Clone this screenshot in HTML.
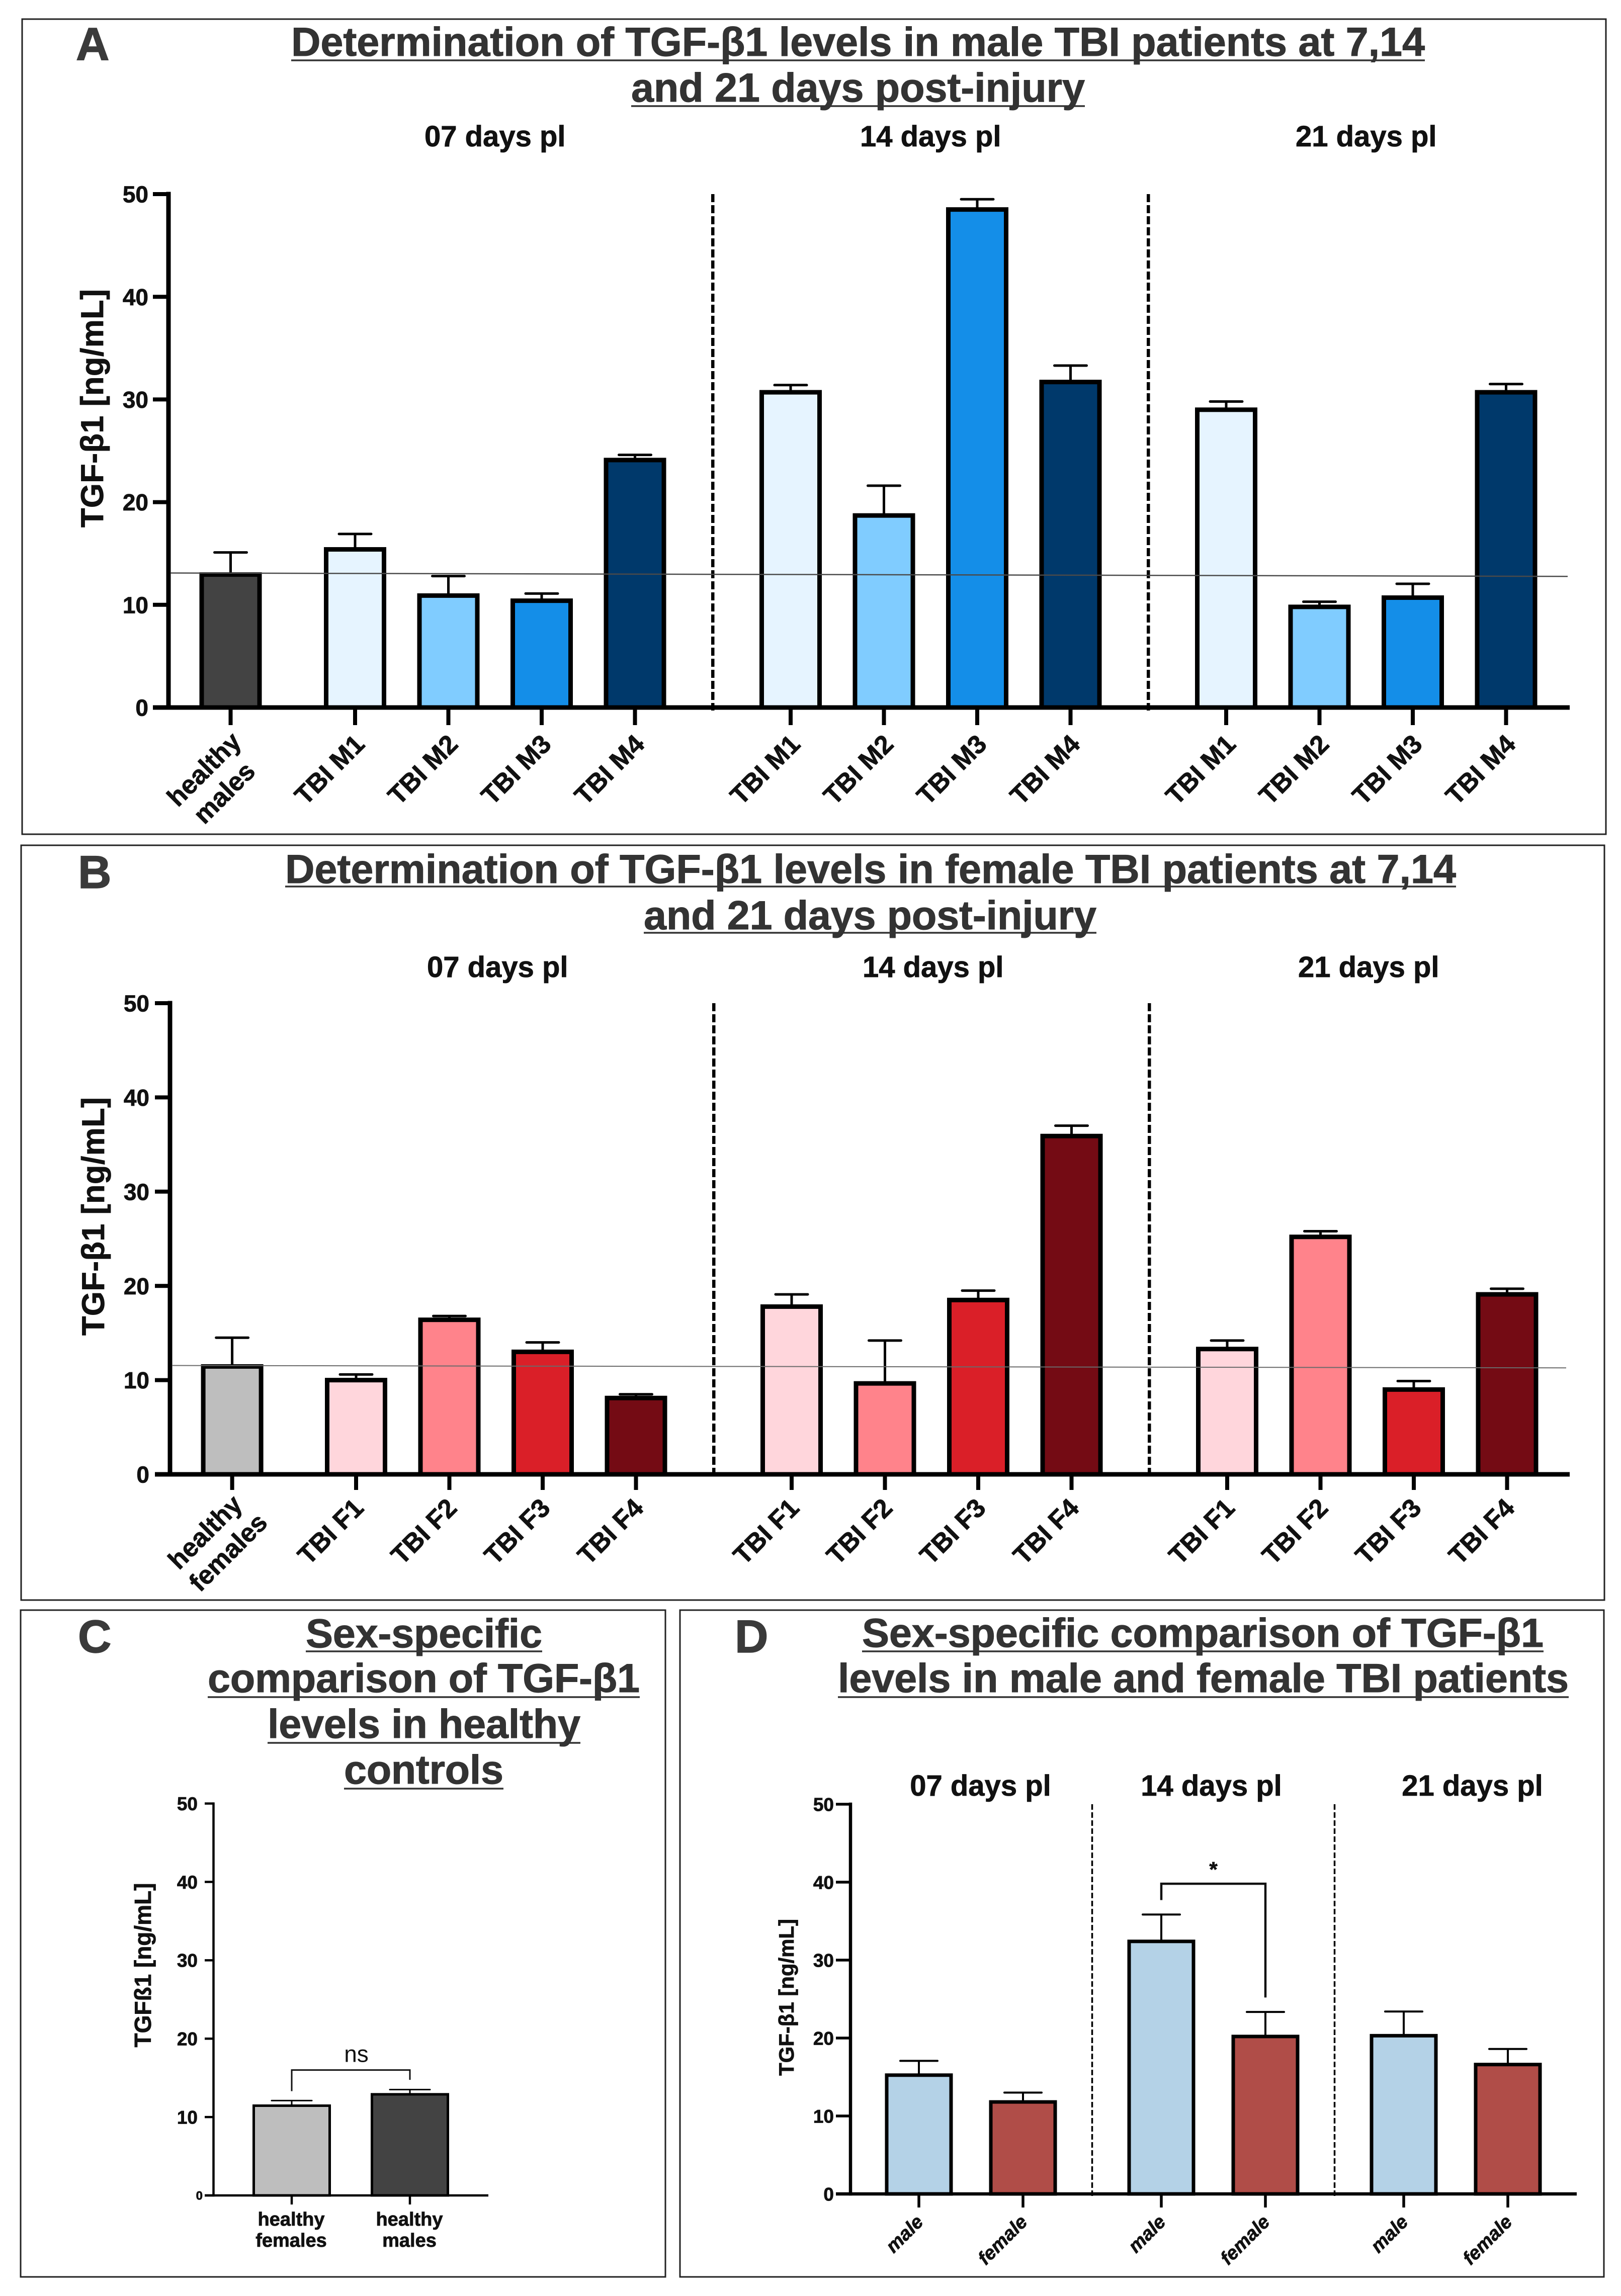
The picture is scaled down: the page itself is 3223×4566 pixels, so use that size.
<!DOCTYPE html>
<html lang="en">
<head>
<meta charset="utf-8">
<title>Determination of TGF-β1 levels in TBI patients</title>
<style>
  html, body { margin: 0; padding: 0; background: #fff; }
  svg { display: block; }
  text { font-family: "Liberation Sans", "DejaVu Sans", sans-serif; }
  .panel-title { font-size: 81px; font-weight: 700; fill: #333; stroke: #333; stroke-width: 1; }
  .panel-letter { font-size: 92px; font-weight: 700; fill: #3a3a3a; stroke: #3a3a3a; stroke-width: 1.5; }
  .title-rule { stroke: #333; stroke-width: 3.5; }
  .frame { fill: none; stroke: #222; stroke-width: 3; }
  .chart-label { stroke: #111; stroke-width: 0.8; }
</style>
</head>
<body>
<svg id="figure" xmlns="http://www.w3.org/2000/svg" width="3223" height="4566" viewBox="0 0 3223 4566">
  <rect x="0" y="0" width="3223" height="4566" fill="#fff"/>

  <g>
    <rect class="frame" x="44" y="38" width="3149" height="1621"/>
    <text class="panel-letter" x="151" y="119">A</text>
    <text class="panel-title" x="579" y="111" textLength="2254" lengthAdjust="spacing">Determination of TGF-β1 levels in male TBI patients at 7,14</text>
    <line class="title-rule" x1="579" x2="2833" y1="120" y2="120"/>
    <text class="panel-title" x="1255" y="202" textLength="902" lengthAdjust="spacing">and 21 days post-injury</text>
    <line class="title-rule" x1="1255" x2="2157" y1="211" y2="211"/>
  </g>

  <g>
    <rect class="frame" x="42" y="1681" width="3148" height="1501"/>
    <text class="panel-letter" x="155" y="1766">B</text>
    <text class="panel-title" x="567" y="1756" textLength="2328" lengthAdjust="spacing">Determination of TGF-β1 levels in female TBI patients at 7,14</text>
    <line class="title-rule" x1="567" x2="2895" y1="1763" y2="1763"/>
    <text class="panel-title" x="1280" y="1848" textLength="900" lengthAdjust="spacing">and 21 days post-injury</text>
    <line class="title-rule" x1="1280" x2="2180" y1="1855" y2="1855"/>
  </g>

  <g>
    <rect class="frame" x="41" y="3202" width="1282" height="1326"/>
    <text class="panel-letter" x="155" y="3286">C</text>
    <text class="panel-title" x="608" y="3276" textLength="470" lengthAdjust="spacing">Sex-specific</text>
    <line class="title-rule" x1="608" x2="1078" y1="3284" y2="3284"/>
    <text class="panel-title" x="413" y="3365" textLength="859" lengthAdjust="spacing">comparison of TGF-β1</text>
    <line class="title-rule" x1="413" x2="1272" y1="3375" y2="3375"/>
    <text class="panel-title" x="532" y="3456" textLength="622" lengthAdjust="spacing">levels in healthy</text>
    <line class="title-rule" x1="532" x2="1154" y1="3466" y2="3466"/>
    <text class="panel-title" x="684" y="3547" textLength="317" lengthAdjust="spacing">controls</text>
    <line class="title-rule" x1="684" x2="1001" y1="3557" y2="3557"/>
  </g>

  <g>
    <rect class="frame" x="1352" y="3202" width="1837" height="1326"/>
    <text class="panel-letter" x="1461" y="3286">D</text>
    <text class="panel-title" x="1714" y="3275" textLength="1355" lengthAdjust="spacing">Sex-specific comparison of TGF-β1</text>
    <line class="title-rule" x1="1714" x2="3069" y1="3284" y2="3284"/>
    <text class="panel-title" x="1666" y="3365" textLength="1453" lengthAdjust="spacing">levels in male and female TBI patients</text>
    <line class="title-rule" x1="1666" x2="3119" y1="3375" y2="3375"/>
  </g>

  <g id="charts"></g>
</svg>

<script>
// ---- shared axis ticks ----
const yTickValues = [0, 10, 20, 30, 40, 50];
const yDomainMax = 50;
const groupLabels = ['07 days pl', '14 days pl', '21 days pl'];

// ---- panel A data ----
const panelACategories = ['TBI M1', 'TBI M2', 'TBI M3', 'TBI M4'];
const panelAControlLines = ['healthy', 'males'];
const panelAControlMean = 12.95;
const panelAControlUpper = 15.1;
const panelAMeans07 = [15.4, 10.9, 10.4, 24.1];
const panelAUpper07 = [16.9, 12.8, 11.1, 24.6];
const panelAMeans14 = [30.7, 18.7, 48.5, 31.7];
const panelAUpper14 = [31.4, 21.6, 49.5, 33.3];
const panelAMeans21 = [29.0, 9.8, 10.7, 30.7];
const panelAUpper21 = [29.8, 10.3, 12.05, 31.5];
const panelAReference = [13.1, 12.77];

// ---- panel B data ----
const panelBCategories = ['TBI F1', 'TBI F2', 'TBI F3', 'TBI F4'];
const panelBControlLines = ['healthy', 'females'];
const panelBControlMean = 11.45;
const panelBControlUpper = 14.5;
const panelBMeans07 = [10.0, 16.4, 13.0, 8.1];
const panelBUpper07 = [10.6, 16.8, 14.0, 8.5];
const panelBMeans14 = [17.8, 9.65, 18.5, 35.9];
const panelBUpper14 = [19.1, 14.2, 19.5, 37.0];
const panelBMeans21 = [13.3, 25.2, 9.0, 19.1];
const panelBUpper21 = [14.2, 25.8, 9.9, 19.7];
const panelBReference = [11.55, 11.3];

// ---- panel C data ----
const panelCCategories = [['healthy', 'females'], ['healthy', 'males']];
const panelCMeans = [11.45, 12.9];
const panelCUpper = [12.1, 13.5];
const panelCBracket = [16.0, 13.3, 14.75];
const panelCSignificance = 'ns';

// ---- panel D data ----
const panelDCategories = ['male', 'female'];
const panelDMeans07 = [15.24, 11.8];
const panelDUpper07 = [17.07, 13.0];
const panelDMeans14 = [32.4, 20.2];
const panelDUpper14 = [35.85, 23.35];
const panelDMeans21 = [20.3, 16.6];
const panelDUpper21 = [23.4, 18.6];
const panelDBracket = [39.8, 37.7, 25.2];
const panelDSignificance = '*';

// ---- palettes ----
const bluePalette = ['#e6f4ff', '#80ccff', '#148ee8', '#00396b'];
const redPalette = ['#ffd6dc', '#ff838b', '#da1f28', '#740b14'];
const sexPalette = ['#b4d2e7', '#b04d48'];

const SVG_NS = 'http://www.w3.org/2000/svg';
const chartsRoot = document.getElementById('charts');

function makeEl(tag, parent, attrs) {
  const el = document.createElementNS(SVG_NS, tag);
  Object.keys(attrs).forEach(function (key) { el.setAttribute(key, attrs[key]); });
  parent.appendChild(el);
  return el;
}

function makeYScale(layout) {
  return function (value) {
    return layout.y0 - (value / yDomainMax) * (layout.y0 - layout.yTop);
  };
}

function drawLine(parent, name, x1, y1, x2, y2, color, width, dash) {
  const el = makeEl('line', parent, { x1: x1, y1: y1, x2: x2, y2: y2, stroke: color, 'stroke-width': width });
  if (dash) el.setAttribute('stroke-dasharray', dash);
  
  
  return el;
}

function drawText(parent, name, content, x, y, size, weight, anchor, extra) {
  const el = makeEl('text', parent, { x: x, y: y, 'font-size': size, 'font-weight': weight, 'text-anchor': anchor, fill: '#111' });
  if (weight === 700) el.setAttribute('class', 'chart-label');
  if (extra) Object.keys(extra).forEach(function (key) { el.setAttribute(key, extra[key]); });
  el.textContent = content;
  
  
  return el;
}

function drawBar(parent, name, cx, mean, upper, fill, layout, yScale) {
  const top = yScale(mean);
  const capY = yScale(upper);
  const halfBar = layout.barWidth / 2;
  drawLine(parent, name + '-error-stem', cx, capY, cx, top, '#000', layout.stemWidth);
  const cap = drawLine(parent, name + '-error-cap', cx - layout.capHalf, capY, cx + layout.capHalf, capY, '#000', layout.capWidth);
  cap.setAttribute('stroke-linecap', 'round');
  const bar = makeEl('rect', parent, {
    x: cx - halfBar, y: top, width: layout.barWidth, height: layout.y0 - top,
    fill: fill, stroke: '#000', 'stroke-width': layout.barStroke
  });
  
  
}

function drawYAxis(parent, layout, yScale, prefix) {
  drawLine(parent, prefix + '-y-axis', layout.axisX, layout.yTop - layout.axisWidth / 2, layout.axisX, layout.y0 + layout.axisWidth / 2, '#000', layout.axisWidth);
  yTickValues.forEach(function (tick) {
    const y = yScale(tick);
    drawLine(parent, prefix + '-y-tick-' + tick, layout.tickLeft, y, layout.axisX, y, '#000', layout.tickWidth);
    const small = tick === 0 && layout.zeroFont;
    const size = small ? layout.zeroFont : layout.tickFont;
    const right = small ? layout.zeroRight : layout.tickLabelRight;
    drawText(parent, prefix + '-y-label-' + tick, String(tick), right, y + size * 0.36, size, 700, 'end');
  });
  drawText(parent, prefix + '-y-axis-title', layout.yTitle, layout.yTitleX, layout.yTitleY, layout.yTitleFont, 700, 'middle', {
    transform: 'rotate(-90 ' + layout.yTitleX + ' ' + layout.yTitleY + ')',
    textLength: layout.yTitleLength,
    lengthAdjust: 'spacing'
  });
}

function drawXAxisLine(parent, layout, prefix) {
  drawLine(parent, prefix + '-x-axis', layout.tickLeft, layout.y0, layout.axisRight, layout.y0, '#000', layout.axisWidth);
}

function drawRotated(parent, name, content, x, y, size, italic) {
  const extra = { transform: 'rotate(-45 ' + x + ' ' + y + ')' };
  if (italic) extra['font-style'] = 'italic';
  drawText(parent, name, content, x, y, size, 700, 'end', extra);
}

function drawXTick(parent, name, x, layout) {
  drawLine(parent, name, x, layout.y0, x, layout.y0 + layout.tickDown, '#000', layout.tickWidth);
}

function drawGroupedPanel(prefix, layout, categories, controlLines, controlMean, controlUpper, controlFill, means, uppers, palette, reference) {
  const g = makeEl('g', chartsRoot, {});
  
  
  const yScale = makeYScale(layout);
  const xScale = function (group, index) {
    return layout.firstX + group * layout.groupStep + index * layout.itemStep;
  };

  groupLabels.forEach(function (label, group) {
    const cx = (xScale(group, 0) + xScale(group, categories.length - 1)) / 2 + layout.groupLabelShift;
    drawText(g, prefix + '-group-label-' + group, label, cx, layout.groupLabelY, 58, 700, 'middle');
  });

  drawXAxisLine(g, layout, prefix);

  drawXTick(g, prefix + '-x-tick-control', layout.controlX, layout);
  drawBar(g, prefix + '-bar-control', layout.controlX, controlMean, controlUpper, controlFill, layout, yScale);
  drawRotated(g, prefix + '-x-label-control-1', controlLines[0], layout.controlX + layout.controlLabel1[0], layout.y0 + layout.controlLabel1[1], layout.xFont, false);
  drawRotated(g, prefix + '-x-label-control-2', controlLines[1], layout.controlX + layout.controlLabel2[0], layout.y0 + layout.controlLabel2[1], layout.xFont, false);

  means.forEach(function (series, group) {
    series.forEach(function (mean, index) {
      const cx = xScale(group, index);
      const name = prefix + '-bar-g' + group + '-' + index;
      drawXTick(g, name + '-tick', cx, layout);
      drawBar(g, name, cx, mean, uppers[group][index], palette[index], layout, yScale);
      drawRotated(g, name + '-label', categories[index], cx + layout.xLabelDx, layout.y0 + layout.xLabelDy, layout.xFont, false);
    });
    if (group < means.length - 1) {
      const dividerX = (xScale(group, series.length - 1) + xScale(group + 1, 0)) / 2;
      drawLine(g, prefix + '-group-divider-' + group, dividerX, layout.yTop, dividerX, layout.y0 + 6, '#000', 6.5, '16 6');
    }
  });

  drawYAxis(g, layout, yScale, prefix);
  drawLine(g, prefix + '-reference-line', layout.axisX + 4, yScale(reference[0]), layout.refRight, yScale(reference[1]), layout.refColor, layout.refWidth);
}

function drawBracket(parent, name, xLeft, xRight, yScale, bracket, width) {
  const yTop = yScale(bracket[0]);
  const el = makeEl('path', parent, {
    d: 'M' + xLeft + ' ' + yScale(bracket[1]) + ' V' + yTop + ' H' + xRight + ' V' + yScale(bracket[2]),
    fill: 'none', stroke: '#111', 'stroke-width': width
  });
  
  
}

// ---- panel A ----
drawGroupedPanel('panel-a', {
  axisX: 335, yTop: 386, y0: 1407, axisRight: 3121, axisWidth: 9, tickWidth: 8,
  tickLeft: 304, tickDown: 35, tickLabelRight: 295, tickFont: 46,
  yTitle: 'TGF-β1 [ng/mL]', yTitleX: 205, yTitleY: 812, yTitleFont: 63, yTitleLength: 474,
  firstX: 706, groupStep: 866, itemStep: 185.5, controlX: 458.5,
  barWidth: 115, barStroke: 9, capHalf: 32, capWidth: 5, stemWidth: 5,
  groupLabelY: 291, groupLabelShift: 0, xFont: 52, xLabelDx: 22, xLabelDy: 76,
  controlLabel1: [24, 71], controlLabel2: [52, 130],
  refRight: 3117, refColor: '#4a4a4a', refWidth: 2.5
}, panelACategories, panelAControlLines, panelAControlMean, panelAControlUpper, '#434343',
  [panelAMeans07, panelAMeans14, panelAMeans21], [panelAUpper07, panelAUpper14, panelAUpper21], bluePalette, panelAReference);

// ---- panel B ----
drawGroupedPanel('panel-b', {
  axisX: 338, yTop: 1995, y0: 2932, axisRight: 3121, axisWidth: 9, tickWidth: 8,
  tickLeft: 308, tickDown: 31, tickLabelRight: 297, tickFont: 46,
  yTitle: 'TGF-β1 [ng/mL]', yTitleX: 207, yTitleY: 2419, yTitleFont: 63, yTitleLength: 474,
  firstX: 708, groupStep: 866, itemStep: 185.5, controlX: 461.6,
  barWidth: 115, barStroke: 9, capHalf: 32, capWidth: 5, stemWidth: 5,
  groupLabelY: 1943, groupLabelShift: 3, xFont: 52, xLabelDx: 18, xLabelDy: 70,
  controlLabel1: [23, 63], controlLabel2: [73, 99],
  refRight: 3114, refColor: '#6a6a6a', refWidth: 2
}, panelBCategories, panelBControlLines, panelBControlMean, panelBControlUpper, '#bebebe',
  [panelBMeans07, panelBMeans14, panelBMeans21], [panelBUpper07, panelBUpper14, panelBUpper21], redPalette, panelBReference);

// ---- panel C ----
(function () {
  const layout = {
    axisX: 424.5, yTop: 3586.6, y0: 4366, axisRight: 971, axisWidth: 4.5, tickWidth: 4.5,
    tickLeft: 407, tickDown: 18, tickLabelRight: 393, tickFont: 37, zeroFont: 24, zeroRight: 403,
    yTitle: 'TGFß1 [ng/mL]', yTitleX: 300, yTitleY: 3908, yTitleFont: 46, yTitleLength: 327,
    barWidth: 151, barStroke: 5, capHalf: 40, capWidth: 3, stemWidth: 3
  };
  const g = makeEl('g', chartsRoot, {});
  
  
  const yScale = makeYScale(layout);
  const xScale = function (index) { return 580 + index * 235; };
  drawXAxisLine(g, layout, 'panel-c');
  panelCMeans.forEach(function (mean, index) {
    const cx = xScale(index);
    drawXTick(g, 'panel-c-x-tick-' + index, cx, layout);
    drawBar(g, 'panel-c-bar-' + index, cx, mean, panelCUpper[index], index === 0 ? '#bebebe' : '#434343', layout, yScale);
    panelCCategories[index].forEach(function (line, lineIndex) {
      drawText(g, 'panel-c-x-label-' + index + '-' + lineIndex, line, cx - 1, 4426 + lineIndex * 42, 38, 700, 'middle');
    });
  });
  drawYAxis(g, layout, yScale, 'panel-c');
  drawBracket(g, 'panel-c-significance-bracket', xScale(0), xScale(1), yScale, panelCBracket, 3);
  drawText(g, 'panel-c-significance-label', panelCSignificance, (xScale(0) + xScale(1)) / 2 + 11, yScale(panelCBracket[0]) - 16, 46, 400, 'middle');
})();

// ---- panel D ----
(function () {
  const layout = {
    axisX: 1691, yTop: 3588, y0: 4363, axisRight: 3135, axisWidth: 6.5, tickWidth: 5.5,
    tickLeft: 1662, tickDown: 27, tickLabelRight: 1658, tickFont: 37,
    yTitle: 'TGF-β1 [ng/mL]', yTitleX: 1578, yTitleY: 3972, yTitleFont: 42, yTitleLength: 312,
    barWidth: 128, barStroke: 7, capHalf: 37, capWidth: 4, stemWidth: 4
  };
  const g = makeEl('g', chartsRoot, {});
  
  
  const yScale = makeYScale(layout);
  const xScale = function (group, index) { return 1827 + group * 482 + index * 207; };
  const labelShifts = [19, -4, 33];
  const means = [panelDMeans07, panelDMeans14, panelDMeans21];
  const uppers = [panelDUpper07, panelDUpper14, panelDUpper21];
  groupLabels.forEach(function (label, group) {
    const cx = (xScale(group, 0) + xScale(group, 1)) / 2 + labelShifts[group];
    drawText(g, 'panel-d-group-label-' + group, label, cx, 3571, 58, 700, 'middle');
  });
  drawXAxisLine(g, layout, 'panel-d');
  means.forEach(function (series, group) {
    series.forEach(function (mean, index) {
      const cx = xScale(group, index);
      const name = 'panel-d-bar-g' + group + '-' + panelDCategories[index];
      drawXTick(g, name + '-tick', cx, layout);
      drawBar(g, name, cx, mean, uppers[group][index], sexPalette[index], layout, yScale);
      drawRotated(g, name + '-label', panelDCategories[index], cx + 11, layout.y0 + 58, 38, true);
    });
    if (group < means.length - 1) {
      const dividerX = (xScale(group, 1) + xScale(group + 1, 0)) / 2;
      drawLine(g, 'panel-d-group-divider-' + group, dividerX, layout.yTop, dividerX, layout.y0 + 4, '#000', 3.5, '11 5');
    }
  });
  drawYAxis(g, layout, yScale, 'panel-d');
  drawBracket(g, 'panel-d-significance-bracket', xScale(1, 0), xScale(1, 1), yScale, panelDBracket, 4.5);
  drawText(g, 'panel-d-significance-label', panelDSignificance, (xScale(1, 0) + xScale(1, 1)) / 2, yScale(panelDBracket[0]) - 14, 42, 700, 'middle');
})();
</script>
</body>
</html>
